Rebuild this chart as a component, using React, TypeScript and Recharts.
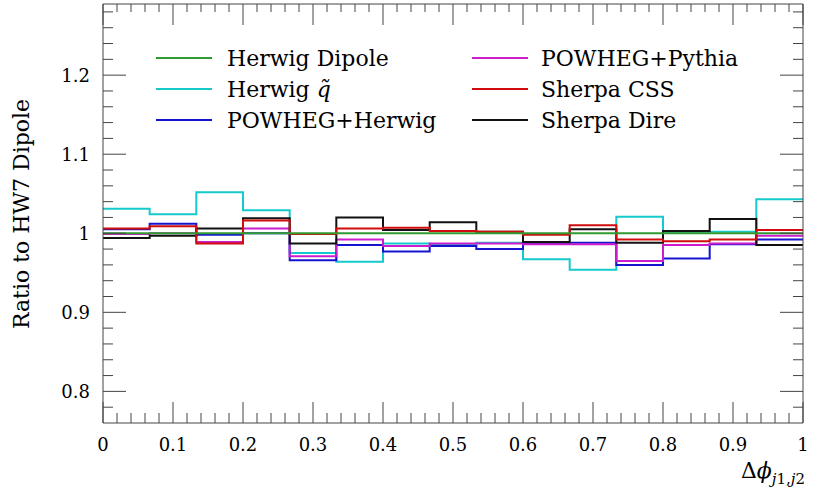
import React from 'react';
import { LineChart, Line, XAxis, YAxis, Legend, Label } from 'recharts';

// bin edges in delta phi (15 bins of width 1/15), last entry closes the histogram
const binEdges = [0, 0.0667, 0.1333, 0.2, 0.2667, 0.3333, 0.4, 0.4667, 0.5333, 0.6, 0.6667, 0.7333, 0.8, 0.8667, 0.9333, 1];

// ratio to HW7 Dipole, one value per bin
const herwigDipole = [1, 1, 1, 1, 1, 1, 1, 1, 1, 1, 1, 1, 1, 1, 1];
const herwigQtilde = [1.031, 1.024, 1.052, 1.029, 0.975, 0.964, 0.987, 0.985, 0.988, 0.967, 0.954, 1.021, 1.002, 1.002, 1.043];
const powhegHerwig = [1.005, 1.012, 0.998, 1.0, 0.966, 0.985, 0.977, 0.984, 0.98, 0.987, 0.988, 0.96, 0.968, 0.986, 0.992];
const powhegPythia = [0.999, 1.0, 0.989, 1.006, 0.971, 0.992, 0.984, 0.987, 0.987, 0.986, 0.986, 0.965, 0.985, 0.987, 0.997];
const sherpaCSS = [1.006, 1.009, 0.987, 1.016, 0.999, 1.006, 1.007, 1.003, 1.002, 0.998, 1.01, 0.992, 0.99, 0.992, 1.004];
const sherpaDire = [0.994, 0.997, 1.006, 1.019, 0.987, 1.02, 1.004, 1.014, 1.002, 0.989, 1.005, 0.988, 1.003, 1.018, 0.985];

const xTickLabels = ['0', '0.1', '0.2', '0.3', '0.4', '0.5', '0.6', '0.7', '0.8', '0.9', '1'];
const yTickLabels = ['0.8', '0.9', '1', '1.1', '1.2'];

const series = [
  { key: 'dipole', name: 'Herwig Dipole', values: herwigDipole, color: '#2f9a2f' },
  { key: 'qtilde', name: 'Herwig q̃', values: herwigQtilde, color: '#16c9cc' },
  { key: 'phw', name: 'POWHEG+Herwig', values: powhegHerwig, color: '#1515d0' },
  { key: 'ppy', name: 'POWHEG+Pythia', values: powhegPythia, color: '#cc1ccc' },
  { key: 'css', name: 'Sherpa CSS', values: sherpaCSS, color: '#d00c0c' },
  { key: 'dire', name: 'Sherpa Dire', values: sherpaDire, color: '#111111' },
];

// draw order: reference curve last so it sits on top
const drawOrder = ['qtilde', 'phw', 'ppy', 'dire', 'css', 'dipole'];

const data = binEdges.map((x, i) => {
  const row: any = { x };
  series.forEach(s => {
    row[s.key] = s.values[Math.min(i, s.values.length - 1)];
  });
  return row;
});

const xTicks = Array.from({ length: 51 }, (_, i) => i / 50);
const yTicks = Array.from({ length: 26 }, (_, i) => (39 + i) / 50);
const isMajor = (v: number) => Math.round(v * 50) % 5 === 0;

const FONT = '"DejaVu Serif", serif';
const TICK = '#444';

const BottomTick = (props: any) => {
  const { x, y, payload } = props;
  const major = isMajor(payload.value);
  return (
    <g>
      <line x1={x} x2={x} y1={y} y2={y - (major ? 21 : 10)} stroke={TICK} />
      {major && (
        <text x={x} y={y + 28} textAnchor="middle" fontFamily={FONT} fontSize={18} fill="#000">
          {xTickLabels[Math.round(payload.value * 10)]}
        </text>
      )}
    </g>
  );
};

const TopTick = (props: any) => {
  const { x, y, payload } = props;
  const major = isMajor(payload.value);
  return <line x1={x} x2={x} y1={y} y2={y + (major ? 21 : 8)} stroke={TICK} />;
};

const LeftTick = (props: any) => {
  const { x, y, payload } = props;
  const major = isMajor(payload.value);
  return (
    <g>
      <line x1={x} x2={x + (major ? 23 : 10)} y1={y} y2={y} stroke={TICK} />
      {major && (
        <text x={x - 13} y={y + 7} textAnchor="end" fontFamily={FONT} fontSize={18} fill="#000">
          {yTickLabels[Math.round(payload.value * 10) - 8]}
        </text>
      )}
    </g>
  );
};

const RightTick = (props: any) => {
  const { x, y, payload } = props;
  const major = isMajor(payload.value);
  return <line x1={x} x2={x - (major ? 23 : 10)} y1={y} y2={y} stroke={TICK} />;
};

const legendCols = [
  { lineX: 156, textX: 227 },
  { lineX: 472, textX: 541 },
];

const renderLegend = () => (
  <div style={{ position: 'relative', width: 0, height: 0 }}>
    {series.map((s, i) => {
      const col = legendCols[Math.floor(i / 3)];
      const cy = 58 + (i % 3) * 31;
      return (
        <React.Fragment key={s.key}>
          <div
            style={{
              position: 'absolute',
              left: col.lineX,
              top: cy - 1,
              width: 56,
              height: 2,
              background: s.color,
            }}
          />
          <div
            style={{
              position: 'absolute',
              left: col.textX,
              top: cy - 13,
              fontFamily: FONT,
              fontSize: 22,
              lineHeight: '28px',
              whiteSpace: 'nowrap',
              color: '#000',
            }}
          >
            {s.key === 'qtilde' ? (
              <>
                Herwig <i>q̃</i>
              </>
            ) : (
              s.name
            )}
          </div>
        </React.Fragment>
      );
    })}
  </div>
);

const App: React.FC = () => {
  return (
    <div style={{ position: 'absolute', left: 0, top: 0, background: '#fff' }}>
      <LineChart width={830} height={494} data={data} margin={{ top: 0, right: 17, bottom: 61, left: 93 }}>
        <XAxis
          dataKey="x"
          type="number"
          domain={[0, 1]}
          ticks={xTicks}
          interval={0}
          height={10}
          tickSize={0}
          tickMargin={0}
          tickLine={false}
          tick={BottomTick}
          axisLine={{ stroke: TICK }}
        >
          <Label
            content={() => (
              <text x={805} y={478} textAnchor="end" fontFamily={FONT} fontSize={22} fill="#000">
                Δ<tspan fontStyle="italic">ϕ</tspan>
                <tspan fontSize={15} dy={6}>
                  <tspan fontStyle="italic">j</tspan>1,<tspan fontStyle="italic">j</tspan>2
                </tspan>
              </text>
            )}
          />
        </XAxis>
        <XAxis
          xAxisId="top"
          orientation="top"
          dataKey="x"
          type="number"
          domain={[0, 1]}
          ticks={xTicks}
          interval={0}
          height={4}
          tickSize={0}
          tickMargin={0}
          tickLine={false}
          tick={TopTick}
          axisLine={{ stroke: TICK }}
        />
        <YAxis
          type="number"
          domain={[0.76, 1.29]}
          ticks={yTicks}
          interval={0}
          width={10}
          tickSize={0}
          tickMargin={0}
          tickLine={false}
          tick={LeftTick}
          axisLine={{ stroke: TICK }}
          allowDataOverflow
        >
          <Label
            content={() => (
              <text
                x={29}
                y={214}
                transform="rotate(-90 29 214)"
                textAnchor="middle"
                fontFamily={FONT}
                fontSize={22}
                fill="#000"
              >
                Ratio to HW7 Dipole
              </text>
            )}
          />
        </YAxis>
        <YAxis
          yAxisId="right"
          orientation="right"
          type="number"
          domain={[0.76, 1.29]}
          ticks={yTicks}
          interval={0}
          width={10}
          tickSize={0}
          tickMargin={0}
          tickLine={false}
          tick={RightTick}
          axisLine={{ stroke: TICK }}
          allowDataOverflow
        />
        <Legend
          content={renderLegend}
          wrapperStyle={{ position: 'absolute', left: 0, top: 0, width: 0, height: 0 }}
        />
        {drawOrder.map(k => {
          const s = series.find(d => d.key === k)!;
          return (
            <Line
              key={s.key}
              dataKey={s.key}
              name={s.name}
              type="stepAfter"
              stroke={s.color}
              strokeWidth={2}
              dot={false}
              activeDot={false}
              isAnimationActive={false}
            />
          );
        })}
      </LineChart>
    </div>
  );
};

export default App;
